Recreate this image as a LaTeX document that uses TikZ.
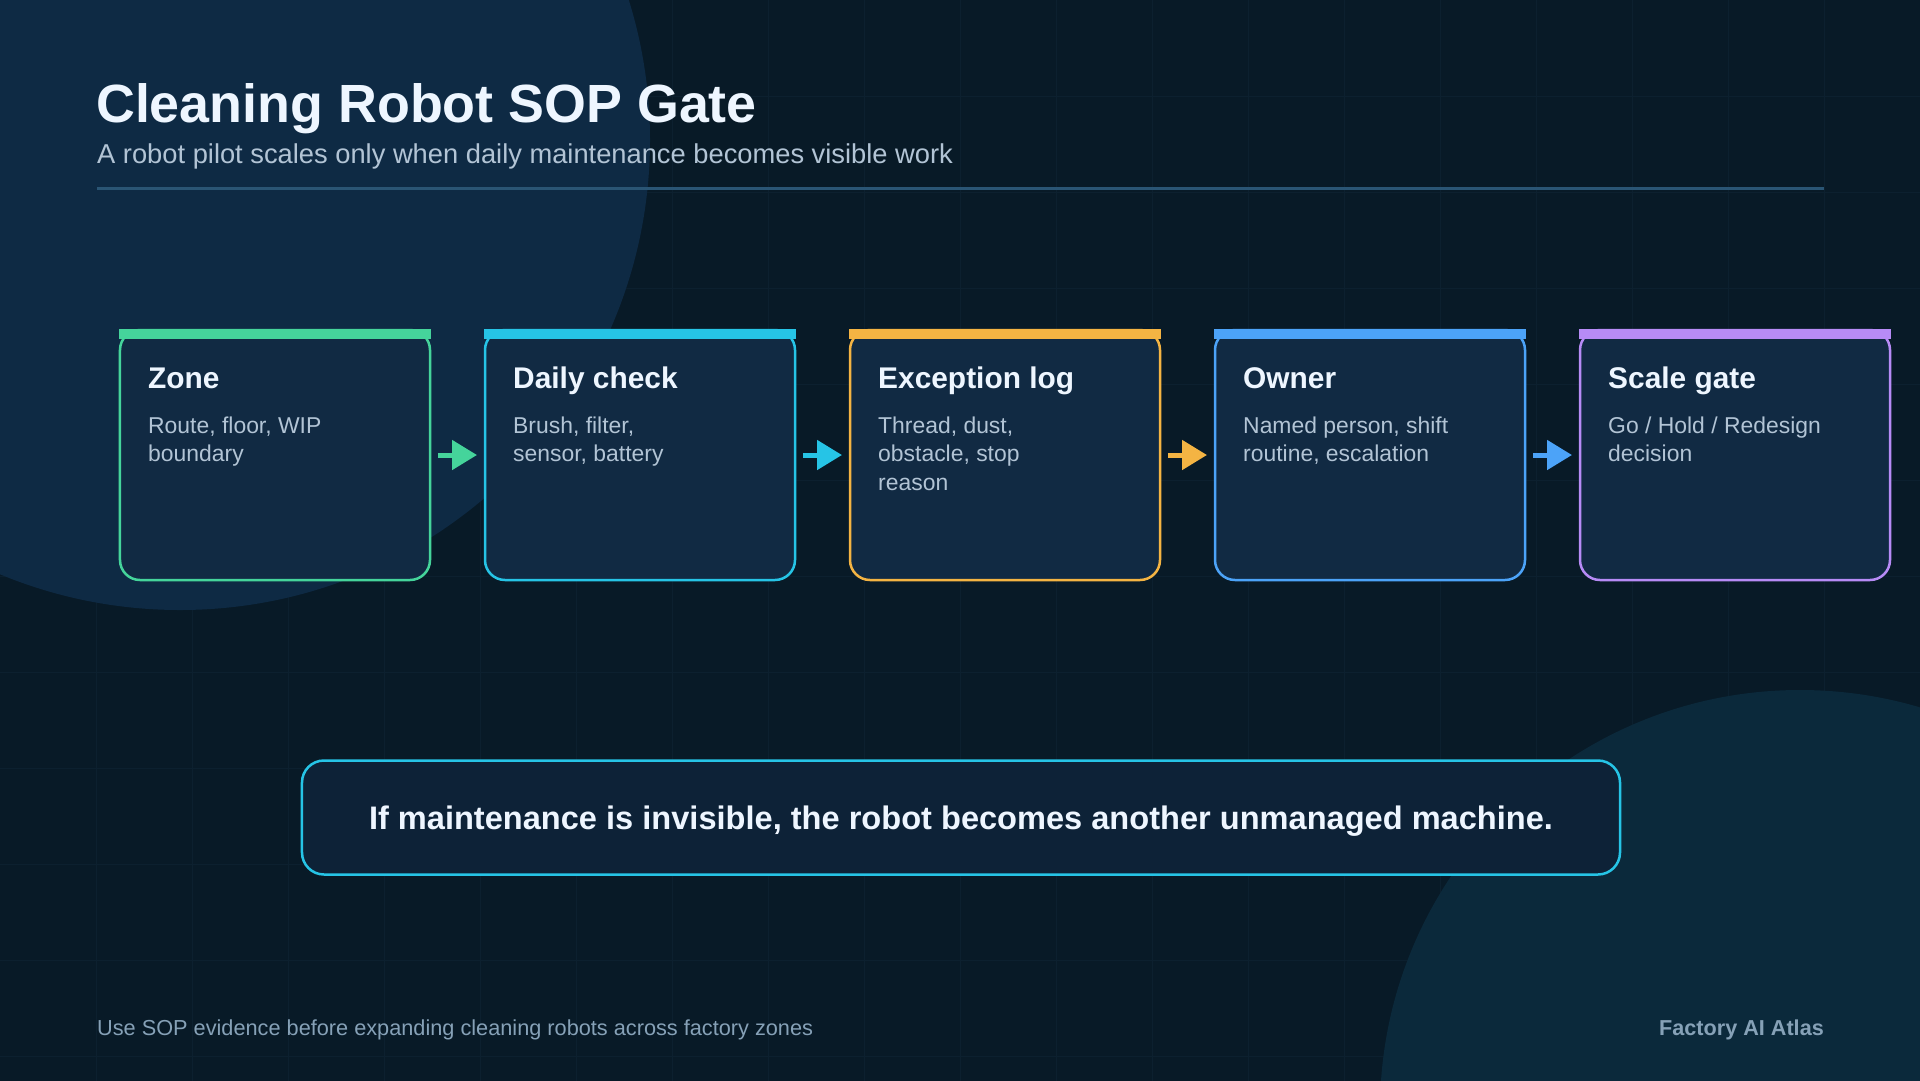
\documentclass[tikz,border=0pt]{standalone}
\usepackage{fontspec}
\setmainfont{Liberation Sans}
\usetikzlibrary{arrows.meta,positioning}

\definecolor{bg}{HTML}{081A27}
\definecolor{gridln}{HTML}{0C202F}
\definecolor{blobA}{HTML}{0E2A44}
\definecolor{blobB}{HTML}{0B293B}
\definecolor{card}{HTML}{112A43}
\definecolor{callfill}{HTML}{0D2237}
\definecolor{ink}{HTML}{EEF6FF}
\definecolor{soft}{HTML}{B2C4D5}
\definecolor{muted}{HTML}{86A1B7}
\definecolor{rule}{HTML}{2A5574}
\definecolor{cZone}{HTML}{45D49B}
\definecolor{cCheck}{HTML}{26C4E6}
\definecolor{cLog}{HTML}{F4B443}
\definecolor{cOwner}{HTML}{4CA3F8}
\definecolor{cGate}{HTML}{B78BF6}

\begin{document}
\begin{tikzpicture}[x=1bp, y=-1bp,
	stage/.style={draw=#1, fill=card, line width=2.5bp, rounded corners=20bp, minimum width=310bp, minimum height=250bp, inner sep=0pt, outer sep=0pt},
	stagetitle/.style={anchor=base west, inner sep=0pt, text=ink, font=\fontsize{30}{36}\selectfont\bfseries},
	stagetext/.style={anchor=base west, inner sep=0pt, text=soft, font=\fontsize{23}{29}\selectfont},
	flow/.style={draw=#1, line width=5bp, shorten <=8bp, shorten >=8bp, -{Triangle[length=25bp, width=29bp]}},
	]
	\useasboundingbox (0,0) rectangle (1920,1080);
	\clip (-6,-6) rectangle (1926,1086);
	\fill[bg] (-6,-6) rectangle (1926,1086);
	\foreach \gx in {96,192,...,1824}
		\draw[gridln, line width=1bp] (\gx,-6) -- (\gx,1086);
	\foreach \gy in {96,192,...,1056}
		\draw[gridln, line width=1bp] (-6,\gy) -- (1926,\gy);
	\fill[blobA] (180,140) circle[radius=470];
	\fill[blobB] (1800,1110) circle[radius=420];

	\node[anchor=base west, inner sep=0pt, text=ink, font=\fontsize{54}{60}\selectfont\bfseries] (title) at (96,122) {Cleaning Robot SOP Gate};
	\node[anchor=base west, inner sep=0pt, text=soft, font=\fontsize{27.4}{32}\selectfont] (subtitle) at (97,163) {A robot pilot scales only when daily maintenance becomes visible work};
	\draw[rule, line width=3bp] (97,188) -- (1824,188);

	\foreach \n/\c/\t/\d [count=\i from 0] in {
		zone/cZone/Zone/{Route, floor, WIP\\boundary},
		check/cCheck/Daily check/{Brush, filter,\\sensor, battery},
		log/cLog/Exception log/{Thread, dust,\\obstacle, stop\\reason},
		owner/cOwner/Owner/{Named person, shift\\routine, escalation},
		gate/cGate/Scale gate/{Go / Hold / Redesign\\decision}} {
		\pgfmathsetmacro\x{120+365*\i}
		\node[stage=\c] (\n) at (\x+155,455) {};
		\fill[\c] ([shift={(-1.25,-1.25)}]\n.north west) rectangle ++(312.5,10.25);
		\node[stagetitle] (\n-title) at (\x+28,388) {\t};
		\node[stagetext] (\n-text) at (\x+28,433) {\parbox[t]{270bp}{\d}};
	}
	\foreach \a/\b/\c in {zone/check/cZone, check/log/cCheck, log/owner/cLog, owner/gate/cOwner}
		\draw[flow=\c] (\a) -- (\b);

	\node[draw=cCheck, fill=callfill, line width=2.5bp, rounded corners=22bp, minimum width=1318bp, minimum height=114bp, text depth=0pt, text=ink, font=\fontsize{32.7}{38}\selectfont\bfseries] (motto) at (961,817.5) {If maintenance is invisible, the robot becomes another unmanaged machine.};

	\node[anchor=base west, inner sep=0pt, text=muted, font=\fontsize{21.8}{26}\selectfont] (footer) at (97,1035) {Use SOP evidence before expanding cleaning robots across factory zones};
	\node[anchor=base east, inner sep=0pt, text=muted, font=\fontsize{21.7}{26}\selectfont\bfseries] (brand) at (1824,1035) {Factory AI Atlas};
\end{tikzpicture}
\end{document}
